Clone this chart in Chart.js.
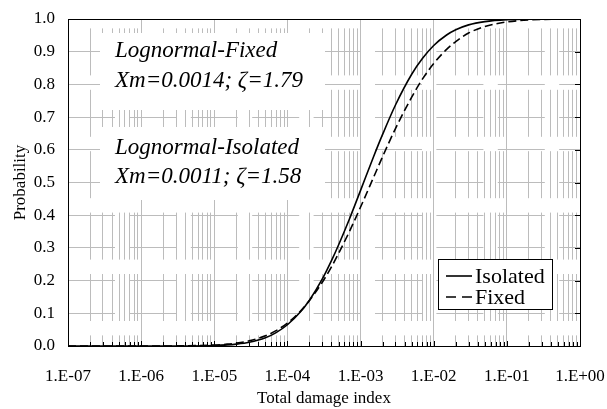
<!DOCTYPE html>
<html>
<head>
<meta charset="utf-8">
<script src="https://cdn.jsdelivr.net/npm/chart.js@4.4.1/dist/chart.umd.min.js"></script>
<style>
  html, body { margin: 0; padding: 0; background: #fff; }
</style>
</head>
<body>
<canvas id="chart" width="607" height="409"></canvas>
<script>
// values
const damageIndex = [1e-7, 1e-6, 3e-6, 1e-5, 1.5e-5, 2e-5, 3e-5, 5e-5, 7e-5, 1e-4, 1.5e-4, 2e-4, 3e-4, 4e-4, 5e-4, 7e-4,
  1e-3, 1.5e-3, 2e-3, 3e-3, 5e-3, 7e-3, 1e-2, 1.5e-2, 2e-2, 3e-2, 5e-2, 1e-1, 2e-1, 1];
const isolatedProb = [0, 0, 0.0001, 0.0015, 0.0033, 0.0056, 0.0113, 0.025, 0.041, 0.065, 0.104, 0.140, 0.205, 0.261, 0.309, 0.387,
  0.476, 0.578, 0.647, 0.737, 0.831, 0.879, 0.919, 0.951, 0.967, 0.982, 0.992, 0.998, 0.9995, 1];
const fixedProb = [0, 0, 0.0003, 0.0029, 0.0056, 0.0088, 0.0159, 0.031, 0.047, 0.070, 0.106, 0.139, 0.195, 0.242, 0.283, 0.349,
  0.425, 0.515, 0.579, 0.665, 0.761, 0.816, 0.864, 0.907, 0.931, 0.957, 0.977, 0.991, 0.997, 1];
const seriesNames = ['Isolated', 'Fixed'];
const xTickLabels = ['1.E-07', '1.E-06', '1.E-05', '1.E-04', '1.E-03', '1.E-02', '1.E-01', '1.E+00'];
const yTickLabels = ['0.0', '0.1', '0.2', '0.3', '0.4', '0.5', '0.6', '0.7', '0.8', '0.9', '1.0'];
const fitNotes = [
  ['Lognormal-Fixed', 'Xm=0.0014; \u03B6=1.79'],
  ['Lognormal-Isolated', 'Xm=0.0011; \u03B6=1.58']
];

const serif = 'Liberation Serif';
const gridGray = '#bcbcbc';

const isDecade = (v) => Math.abs(Math.log10(v) - Math.round(Math.log10(v))) < 1e-9;

// 1..9 x 10^e for every decade shown
function logTicks() {
  const out = [];
  for (let e = -7; e < 0; e++) {
    for (let k = 1; k <= 9; k++) out.push({ value: Number((k * Math.pow(10, e)).toPrecision(3)) });
  }
  out.push({ value: 1 });
  return out;
}

const notesAndFrame = {
  id: 'notesAndFrame',
  beforeDatasetsDraw(chart) {
    const ctx = chart.ctx;
    ctx.save();
    ctx.fillStyle = '#fff';
    ctx.fillRect(100, 33, 225, 77);
    ctx.fillRect(100, 127, 225, 73);
    ctx.fillStyle = '#000';
    ctx.font = 'italic 23px "' + serif + '"';
    ctx.textBaseline = 'alphabetic';
    ctx.fillText(fitNotes[0][0], 115, 57);
    ctx.fillText(fitNotes[0][1], 115, 87);
    ctx.fillText(fitNotes[1][0], 115, 154);
    ctx.fillText(fitNotes[1][1], 115, 183);
    ctx.restore();
  },
  afterDraw(chart) {
    const ctx = chart.ctx;
    const a = chart.chartArea;
    const xs = chart.scales.x;
    const ys = chart.scales.y;
    ctx.save();
    ctx.strokeStyle = '#000';
    ctx.lineWidth = 1;
    ctx.beginPath();
    // inward ticks on the bottom axis
    xs.ticks.forEach(t => {
      const px = Math.round(xs.getPixelForValue(t.value)) + 0.5;
      ctx.moveTo(px, a.bottom);
      ctx.lineTo(px, a.bottom - (isDecade(t.value) ? 5 : 4));
    });
    // inward ticks on the right edge
    ys.ticks.forEach(t => {
      const py = Math.round(ys.getPixelForValue(t.value)) + 0.5;
      ctx.moveTo(a.right, py);
      ctx.lineTo(a.right - 5, py);
    });
    ctx.stroke();
    ctx.strokeRect(Math.round(a.left) + 0.5, Math.round(a.top) + 0.5,
      Math.round(a.right - a.left), Math.round(a.bottom - a.top));

    // legend box
    ctx.fillStyle = '#fff';
    ctx.fillRect(438, 259, 114, 50);
    ctx.strokeRect(438.5, 259.5, 114, 50);
    ctx.font = '22px "' + serif + '"';
    ctx.fillStyle = '#000';
    chart.data.datasets.forEach((ds, i) => {
      const yRow = 276 + i * 21;
      ctx.save();
      ctx.lineWidth = 1.6;
      ctx.setLineDash(ds.borderDash ? [10, 6] : []);
      ctx.beginPath();
      ctx.moveTo(446, yRow);
      ctx.lineTo(472, yRow);
      ctx.stroke();
      ctx.restore();
      ctx.fillText(ds.label, 475, yRow + 7);
    });
    ctx.restore();
  }
};

const toPoints = (ys) => damageIndex.map((x, i) => ({ x: x, y: ys[i] }));

new Chart(document.getElementById('chart'), {
  type: 'line',
  data: {
    datasets: [
      {
        label: seriesNames[0],
        data: toPoints(isolatedProb),
        borderColor: '#000',
        borderWidth: 1.6,
        pointRadius: 0,
        cubicInterpolationMode: 'monotone',
        xAxisID: 'x',
        yAxisID: 'y'
      },
      {
        label: seriesNames[1],
        data: toPoints(fixedProb),
        borderColor: '#000',
        borderWidth: 1.6,
        borderDash: [8, 4],
        pointRadius: 0,
        cubicInterpolationMode: 'monotone',
        xAxisID: 'x',
        yAxisID: 'y'
      }
    ]
  },
  options: {
    responsive: false,
    animation: false,
    devicePixelRatio: 1,
    layout: { padding: { left: 0, right: 27, top: 19, bottom: 0 } },
    plugins: { legend: { display: false }, tooltip: { enabled: false } },
    scales: {
      x: {
        type: 'logarithmic',
        position: 'bottom',
        min: 1e-7,
        max: 1,
        afterBuildTicks: (s) => { s.ticks = logTicks(); },
        afterFit: (s) => { s.height = 63; s.paddingLeft = 0; s.paddingRight = 0; },
        grid: {
          color: (c) => (c.tick && isDecade(c.tick.value)) ? gridGray : 'rgba(0,0,0,0)',
          drawTicks: false
        },
        border: { display: false },
        ticks: {
          autoSkip: false,
          maxRotation: 0,
          padding: 20,
          color: '#000',
          font: { family: serif, size: 17 },
          callback: (v) => isDecade(v) ? xTickLabels[Math.round(Math.log10(v)) + 7] : ''
        },
        title: {
          display: true,
          text: 'Total damage index',
          color: '#000',
          font: { family: serif, size: 17 },
          padding: { top: 0, bottom: 0 }
        }
      },
      x2: {
        type: 'logarithmic',
        position: 'top',
        min: 1e-7,
        max: 1,
        afterBuildTicks: (s) => { s.ticks = logTicks(); },
        afterFit: (s) => { s.height = 0; s.paddingLeft = 0; s.paddingRight = 0; },
        grid: {
          color: (c) => (c.tick && isDecade(c.tick.value)) ? 'rgba(0,0,0,0)' : gridGray,
          drawTicks: false
        },
        border: { display: false, dash: [47, 14.4], dashOffset: 52 },
        ticks: { display: false }
      },
      y: {
        min: 0,
        max: 1,
        afterFit: (s) => { s.width = 68; s.paddingTop = 0; s.paddingBottom = 0; },
        grid: { color: gridGray, drawTicks: false },
        border: { display: false, dash: [47, 14.4], dashOffset: 0 },
        ticks: {
          stepSize: 0.1,
          padding: 13,
          color: '#000',
          font: { family: serif, size: 17 },
          callback: (v) => yTickLabels[Math.round(v * 10)]
        },
        title: {
          display: true,
          text: 'Probability',
          color: '#000',
          font: { family: serif, size: 17 },
          padding: { top: 10, bottom: 0 }
        }
      }
    }
  },
  plugins: [notesAndFrame]
});
</script>
</body>
</html>
